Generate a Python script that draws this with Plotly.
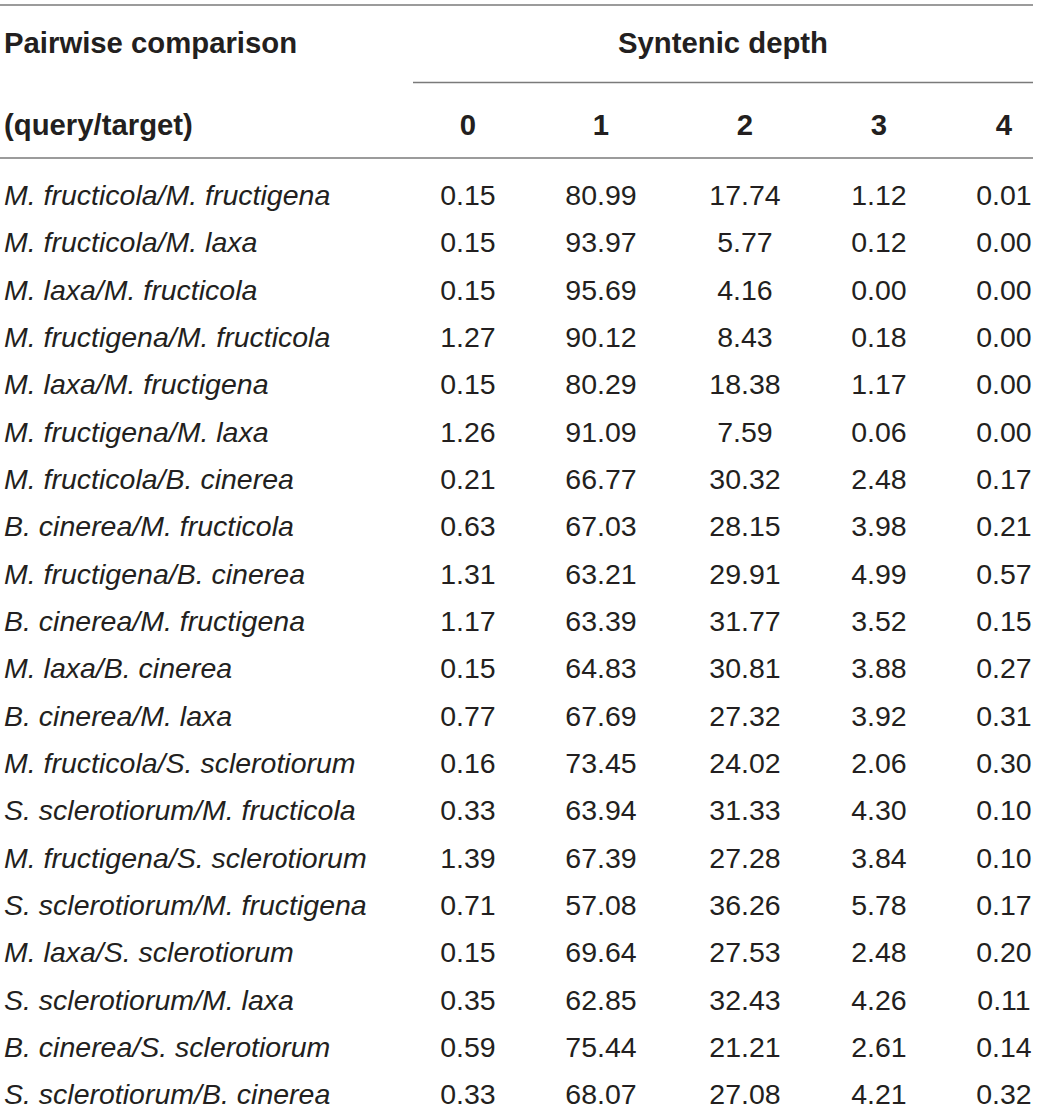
import plotly.graph_objects as go

# Dados da tabela
comparacoes = [
    "M. fructicola/M. fructigena",
    "M. fructicola/M. laxa",
    "M. laxa/M. fructicola",
    "M. fructigena/M. fructicola",
    "M. laxa/M. fructigena",
    "M. fructigena/M. laxa",
    "M. fructicola/B. cinerea",
    "B. cinerea/M. fructicola",
    "M. fructigena/B. cinerea",
    "B. cinerea/M. fructigena",
    "M. laxa/B. cinerea",
    "B. cinerea/M. laxa",
    "M. fructicola/S. sclerotiorum",
    "S. sclerotiorum/M. fructicola",
    "M. fructigena/S. sclerotiorum",
    "S. sclerotiorum/M. fructigena",
    "M. laxa/S. sclerotiorum",
    "S. sclerotiorum/M. laxa",
    "B. cinerea/S. sclerotiorum",
    "S. sclerotiorum/B. cinerea",
]
profundidades = ["0", "1", "2", "3", "4"]
depth0 = [0.15, 0.15, 0.15, 1.27, 0.15, 1.26, 0.21, 0.63, 1.31, 1.17,
          0.15, 0.77, 0.16, 0.33, 1.39, 0.71, 0.15, 0.35, 0.59, 0.33]
depth1 = [80.99, 93.97, 95.69, 90.12, 80.29, 91.09, 66.77, 67.03, 63.21, 63.39,
          64.83, 67.69, 73.45, 63.94, 67.39, 57.08, 69.64, 62.85, 75.44, 68.07]
depth2 = [17.74, 5.77, 4.16, 8.43, 18.38, 7.59, 30.32, 28.15, 29.91, 31.77,
          30.81, 27.32, 24.02, 31.33, 27.28, 36.26, 27.53, 32.43, 21.21, 27.08]
depth3 = [1.12, 0.12, 0.00, 0.18, 1.17, 0.06, 2.48, 3.98, 4.99, 3.52,
          3.88, 3.92, 2.06, 4.30, 3.84, 5.78, 2.48, 4.26, 2.61, 4.21]
depth4 = [0.01, 0.00, 0.00, 0.00, 0.00, 0.00, 0.17, 0.21, 0.57, 0.15,
          0.27, 0.31, 0.30, 0.10, 0.10, 0.17, 0.20, 0.11, 0.14, 0.32]
colunas = [depth0, depth1, depth2, depth3, depth4]

# Geometria (pixels)
W, H = 1039, 1109
x_esq = 4
x_cols = [468, 601, 745, 879, 1004]
y_primeira = 198
passo = 47.32
y_linhas = [y_primeira + i * passo for i in range(len(comparacoes))]

cor_texto = "#231f20"
cor_linha = "#7a7a7a"
fonte = "Liberation Sans, Arial, sans-serif"
tam = 28.5
tam_cab = 29.3

fig = go.Figure()

# Coluna das comparações (itálico)
fig.add_trace(go.Scatter(
    x=[x_esq] * len(comparacoes), y=y_linhas,
    text=[f"<i>{c}</i>" for c in comparacoes],
    mode="text", textposition="middle right", cliponaxis=False,
    textfont=dict(family=fonte, size=tam, color=cor_texto),
    hoverinfo="skip", showlegend=False
))

# Colunas numéricas
for xc, vals in zip(x_cols, colunas):
    fig.add_trace(go.Scatter(
        x=[xc] * len(vals), y=y_linhas,
        text=[f"{v:.2f}" for v in vals],
        mode="text", textposition="middle center", cliponaxis=False,
        textfont=dict(family=fonte, size=tam, color=cor_texto),
        hoverinfo="skip", showlegend=False
    ))

# Cabeçalho
fig.add_trace(go.Scatter(
    x=[x_esq, x_esq], y=[46, 128],
    text=["<b>Pairwise comparison</b>", "<b>(query/target)</b>"],
    mode="text", textposition="middle right", cliponaxis=False,
    textfont=dict(family=fonte, size=tam_cab, color=cor_texto),
    hoverinfo="skip", showlegend=False
))
fig.add_trace(go.Scatter(
    x=x_cols + [723], y=[128] * len(x_cols) + [46],
    text=[f"<b>{p}</b>" for p in profundidades] + ["<b>Syntenic depth</b>"],
    mode="text", textposition="middle center", cliponaxis=False,
    textfont=dict(family=fonte, size=tam_cab, color=cor_texto),
    hoverinfo="skip", showlegend=False
))

# Linhas da tabela
linha = dict(color=cor_linha, width=1.3)
fig.add_shape(type="line", x0=0, x1=1033, y0=5, y1=5, line=linha)
fig.add_shape(type="line", x0=413, x1=1033, y0=82.5, y1=82.5, line=linha)
fig.add_shape(type="line", x0=0, x1=1033, y0=158, y1=158, line=linha)

fig.update_xaxes(range=[0, W], visible=False, fixedrange=True)
fig.update_yaxes(range=[H, 0], visible=False, fixedrange=True)
fig.update_layout(
    width=W, height=H,
    margin=dict(l=0, r=0, t=0, b=0),
    plot_bgcolor="white", paper_bgcolor="white",
)

# tira a margem padrão do <body> e as barras de rolagem
fig.write_html(
    "out.html",
    config={"displayModeBar": False},
    post_script="document.body.style.margin = '0'; document.body.style.overflow = 'hidden';",
)
